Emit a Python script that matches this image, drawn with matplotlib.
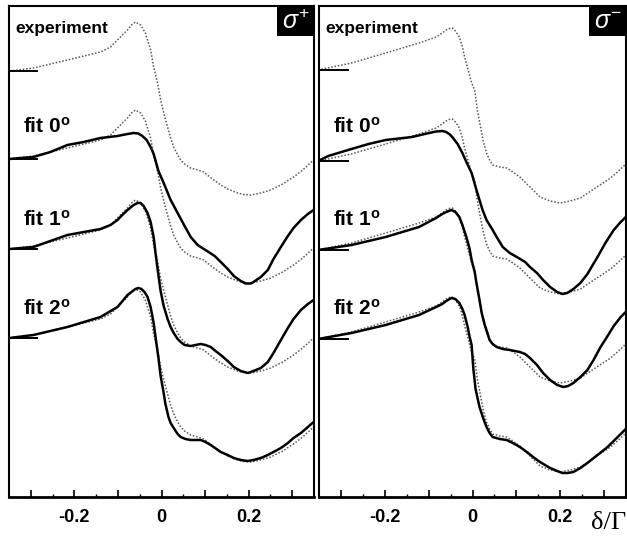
import matplotlib
matplotlib.use("Agg")
import matplotlib.pyplot as plt
from matplotlib.ticker import FixedLocator, FixedFormatter
from matplotlib.patches import Rectangle

plt.rcParams["font.family"] = ["Liberation Sans", "DejaVu Sans"]
plt.rcParams["mathtext.fontset"] = "custom"
plt.rcParams["mathtext.rm"] = "Liberation Sans"
plt.rcParams["mathtext.it"] = "Liberation Sans:italic"
plt.rcParams["mathtext.bf"] = "Liberation Sans:bold"

# ------------------------------------
# Data (detuning delta/Gamma, signal in arb. units, baseline = 0)
# ------------------------------------

# sigma+ panel
exp_p_x = [-0.349, -0.294, -0.216, -0.140, -0.117, -0.101, -0.090, -0.078, -0.069,
           -0.060, -0.048, -0.037, -0.025, -0.018, -0.009, -0.002, 0.007, 0.014,
           0.021, 0.028, 0.037, 0.044, 0.053, 0.067, 0.083, 0.097, 0.108, 0.120,
           0.136, 0.152, 0.175, 0.189, 0.205, 0.228, 0.251, 0.278, 0.303, 0.324, 0.349]
exp_p_y = [0, 3, 11, 19, 24, 31, 36, 41, 46,
           49, 46, 38, 21, 4, -12, -29, -45, -56,
           -67, -76, -84, -89, -93, -97, -99, -101, -105, -109,
           -114, -118, -122, -123.5, -124, -122, -119, -113, -106, -99, -89]

fit0_p_x = [-0.349, -0.324, -0.294, -0.255, -0.216, -0.179, -0.140, -0.101, -0.078,
            -0.064, -0.053, -0.044, -0.034, -0.025, -0.018, -0.007, 0.005, 0.021,
            0.037, 0.053, 0.067, 0.083, 0.097, 0.108, 0.122, 0.136, 0.152, 0.166,
            0.182, 0.193, 0.205, 0.211, 0.228, 0.244, 0.257, 0.274, 0.290, 0.303,
            0.320, 0.336, 0.349]
fit0_p_y = [0, 1, 2, 7, 14, 17, 21, 23, 25,
            26, 25.5, 23, 19, 12, 5, -12, -24, -41,
            -54, -67, -78, -86, -90, -93, -97, -103, -110, -117,
            -122, -124.5, -124.5, -123, -118, -111, -100, -88, -77, -69,
            -61, -55, -51]

fit1_p_x = [-0.349, -0.294, -0.216, -0.140, -0.117, -0.101, -0.090, -0.078, -0.064,
            -0.055, -0.048, -0.041, -0.032, -0.025, -0.018, -0.014, -0.009, -0.002,
            0.005, 0.014, 0.021, 0.028, 0.037, 0.044, 0.053, 0.067, 0.078, 0.090,
            0.101, 0.113, 0.124, 0.136, 0.152, 0.166, 0.182, 0.198, 0.211, 0.228,
            0.244, 0.257, 0.274, 0.290, 0.303, 0.320, 0.336, 0.349]
fit1_p_y = [0, 2, 14, 20, 24, 29, 34, 39, 44,
            46, 46, 43, 36, 27, 12, -3, -20, -42,
            -57, -70, -78, -84, -90, -93, -96, -97, -96, -95,
            -96, -98, -102, -106, -112, -118, -122, -124, -122, -119,
            -113, -104, -91, -79, -70, -61, -55, -51]

fit2_p_x = [-0.349, -0.294, -0.216, -0.140, -0.101, -0.078, -0.069, -0.060, -0.053,
            -0.046, -0.039, -0.032, -0.025, -0.018, -0.014, -0.007, -0.002, 0.005,
            0.009, 0.016, 0.021, 0.028, 0.037, 0.044, 0.055, 0.067, 0.078, 0.090,
            0.101, 0.113, 0.136, 0.152, 0.166, 0.182, 0.198, 0.211, 0.228, 0.244,
            0.257, 0.274, 0.290, 0.303, 0.320, 0.336, 0.349]
fit2_p_y = [0, 3, 11, 21, 31, 43, 46, 49, 50,
            49, 46, 41, 31, 15, 2, -20, -38, -55,
            -66, -79, -85, -90, -96, -99, -101, -102, -102, -102,
            -104, -107, -114, -117, -120, -122, -123, -122, -120, -117,
            -114, -110, -105, -100, -95, -89, -84]

# sigma- panel
exp_m_x = [-0.352, -0.276, -0.198, -0.122, -0.083, -0.069, -0.060, -0.053, -0.046,
           -0.039, -0.030, -0.023, -0.018, -0.011, -0.002, 0.005, 0.011, 0.021,
           0.025, 0.032, 0.039, 0.046, 0.062, 0.078, 0.092, 0.108, 0.131, 0.154,
           0.177, 0.200, 0.223, 0.246, 0.280, 0.315, 0.338, 0.354]
exp_m_y = [0, 7, 17, 27, 33, 37, 40, 41.5, 42,
           39, 33, 23, 13, 2, -13, -20, -40, -63,
           -72, -83, -90, -95, -97, -98, -102, -107, -117, -127,
           -131, -133, -131, -128, -118, -108, -99, -92]

fit0_m_x = [-0.352, -0.329, -0.276, -0.237, -0.198, -0.138, -0.099, -0.083, -0.069,
            -0.060, -0.053, -0.046, -0.034, -0.023, -0.014, -0.002, 0.009, 0.023,
            0.032, 0.046, 0.055, 0.069, 0.085, 0.101, 0.120, 0.131, 0.147, 0.161,
            0.177, 0.193, 0.205, 0.216, 0.230, 0.246, 0.262, 0.285, 0.303, 0.322,
            0.338, 0.354]
fit0_m_y = [0, 5, 12, 17, 21, 24, 28, 29.5, 30,
            29, 27, 24, 17, 8, -1, -12, -29, -49,
            -59, -69, -76, -86, -92, -96, -101, -106, -112, -119,
            -126, -131, -133, -132, -128, -122, -113, -96, -82, -69,
            -61, -54]

fit1_m_x = [-0.352, -0.276, -0.198, -0.122, -0.083, -0.069, -0.060, -0.048, -0.039,
            -0.030, -0.023, -0.014, -0.007, -0.002, 0.005, 0.009, 0.016, 0.021,
            0.028, 0.034, 0.039, 0.046, 0.055, 0.069, 0.085, 0.108, 0.120, 0.131,
            0.147, 0.161, 0.177, 0.193, 0.207, 0.218, 0.230, 0.246, 0.262, 0.276,
            0.292, 0.308, 0.322, 0.338, 0.354]
fit1_m_y = [0, 5, 13, 23, 32, 36, 38, 40, 38,
            33, 25, 13, 2, -10, -22, -33, -50, -63,
            -75, -83, -90, -94, -97, -99, -100, -102, -104, -108,
            -115, -123, -130, -135, -137, -136, -133, -127, -120, -110,
            -97, -86, -76, -67, -60]

fit2_m_x = [-0.352, -0.276, -0.198, -0.122, -0.083, -0.069, -0.060, -0.048, -0.039,
            -0.030, -0.023, -0.018, -0.011, -0.007, -0.002, 0.002, 0.007, 0.011,
            0.016, 0.025, 0.032, 0.039, 0.046, 0.062, 0.078, 0.092, 0.108, 0.124,
            0.138, 0.154, 0.177, 0.193, 0.205, 0.216, 0.230, 0.246, 0.262, 0.285,
            0.308, 0.331, 0.354]
fit2_m_y = [0, 6, 14, 24, 32, 35, 38, 41, 40,
            36, 30, 24, 12, 3, -6, -30, -50, -58,
            -68, -80, -88, -94, -98, -100, -101, -104, -108, -113,
            -118, -123, -129, -132, -134, -134, -133, -129, -124, -116,
            -108, -98, -88]

row_labels = ["experiment", r"fit 0$^{\mathbf{o}}$", r"fit 1$^{\mathbf{o}}$", r"fit 2$^{\mathbf{o}}$"]
offsets_p = [0, -88, -178, -267]
offsets_m = [0, -91, -180, -269]

x_ticks = [-0.3, -0.2, -0.1, 0.0, 0.1, 0.2, 0.3]
x_tick_labels = ["", "-0.2", "", "0", "", "0.2", ""]
x_minor = [-0.25, -0.15, -0.05, 0.05, 0.15, 0.25]

# ------------------------------------
# Panel helper
# ------------------------------------

def draw_panel(ax, exp_x, exp_y, fits, offsets, pol, ylim):

    gray = "#555555"
    dots = (0, (1, 1.2))

    # experiment on top row and copied under each fit
    for off in offsets:
        ax.plot(exp_x, [v + off for v in exp_y], color=gray, lw=1.1, ls=dots)

    for (fx, fy), off in zip(fits, offsets[1:]):
        ax.plot(fx, [v + off for v in fy], color="black", lw=1.8,
                solid_joinstyle="round", solid_capstyle="round")

    # baseline markers
    for off in offsets:
        ax.plot([-0.35, -0.285], [off, off], color="black", lw=1.4)

    ax.set_xlim(-0.35, 0.35)
    ax.set_ylim(*ylim)

    ax.xaxis.set_major_locator(FixedLocator(x_ticks))
    ax.xaxis.set_major_formatter(FixedFormatter(x_tick_labels))
    ax.xaxis.set_minor_locator(FixedLocator(x_minor))
    ax.tick_params(axis="x", which="major", direction="in", length=5, width=1.2,
                   pad=9, labelsize=13)
    ax.tick_params(axis="x", which="minor", direction="in", length=2.5, width=1.0)
    for lab in ax.get_xticklabels():
        lab.set_fontweight("bold")
    ax.set_yticks([])

    for sp in ax.spines.values():
        sp.set_linewidth(1.5)
    ax.spines["bottom"].set_linewidth(2.0)

    # row labels
    ax.text(0.022, 0.955, row_labels[0], transform=ax.transAxes,
            fontsize=12.5, fontweight="bold", va="center", ha="left")
    for lab, yy in zip(row_labels[1:], [0.755, 0.565, 0.383]):
        ax.text(0.045, yy, lab, transform=ax.transAxes,
                fontsize=15, fontweight="bold", va="center", ha="left")

    # polarisation tag
    ax.add_patch(Rectangle((0.879, 0.938), 0.121, 0.062, transform=ax.transAxes,
                           facecolor="black", edgecolor="none", zorder=5))
    ax.text(0.94, 0.967, pol, transform=ax.transAxes, color="white",
            fontsize=18, ha="center", va="center", zorder=6)


fig = plt.figure(figsize=(6.27, 5.38), dpi=100)

ax1 = fig.add_axes([9 / 627, 41 / 538, 305 / 627, 491 / 538])
ax2 = fig.add_axes([319 / 627, 41 / 538, 307 / 627, 491 / 538])

draw_panel(ax1, exp_p_x, exp_p_y,
           [(fit0_p_x, fit0_p_y), (fit1_p_x, fit1_p_y), (fit2_p_x, fit2_p_y)],
           offsets_p, r"$\sigma^{+}$", (-426, 65))

draw_panel(ax2, exp_m_x, exp_m_y,
           [(fit0_m_x, fit0_m_y), (fit1_m_x, fit1_m_y), (fit2_m_x, fit2_m_y)],
           offsets_m, r"$\sigma^{-}$", (-427, 64))

fig.text(0.999, 0.028, "δ/Γ", family="Liberation Serif", fontsize=19,
         ha="right", va="center")

plt.savefig("out.png", dpi=100)
plt.close()
